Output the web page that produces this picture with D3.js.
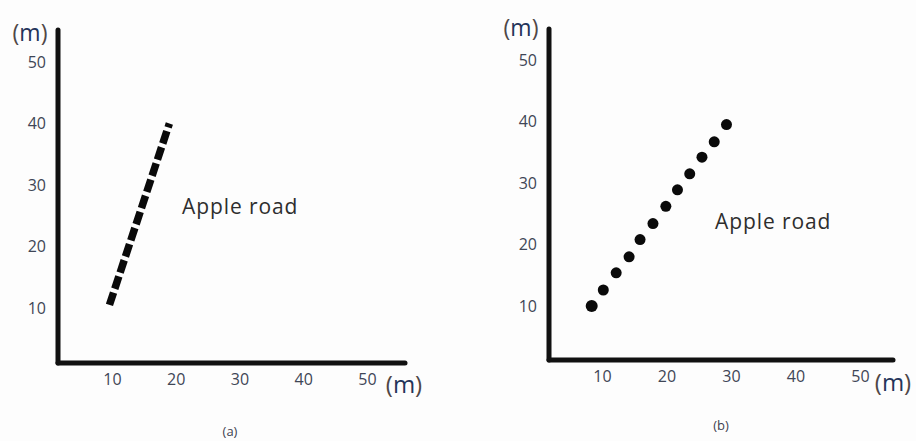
<!DOCTYPE html>
<html>
<head>
<meta charset="utf-8">
<script src="https://cdn.jsdelivr.net/npm/d3@7"></script>
<style>
  html, body { margin: 0; padding: 0; background: #fdfdfd; }
  svg { display: block; }
</style>
</head>
<body>
<div id="main"></div>
<script>
// tick values (both axes, both panels)
const tickValues = [10, 20, 30, 40, 50];

// panel (a): dashed road, two end points
const roadAX = [9.6, 19];
const roadAY = [10.5, 40];

// panel (b): dotted road
const roadBX = [8.4, 10.2, 12.2, 14.2, 15.9, 17.9, 19.9, 21.7, 23.6, 25.5, 27.4, 29.3];
const roadBY = [10.0, 12.6, 15.4, 18.0, 20.8, 23.4, 26.2, 28.9, 31.5, 34.2, 36.7, 39.5];

const roadName = "Apple road";
const panelNames = ["(a)", "(b)"];

const width = 916;
const height = 441;

const svg = d3.select("#main")
  .append("svg")
  .attr("width", width)
  .attr("height", height)
  .style("background", "#fdfdfd");

const tickColor = "#3f4656";
const font = "'Open Sans', 'Noto Sans', sans-serif";

// layout of each hand drawn panel
const panels = [
  {
    name: panelNames[0],
    originX: 58, originY: 363, axisEndX: 405, axisTopY: 30,
    xRange: [112, 367], yRange: [308, 62],
    roadLabel: [182, 214],
    yUnit: [30, 41], xUnit: [404, 393], nameAt: [230, 436]
  },
  {
    name: panelNames[1],
    originX: 549, originY: 360, axisEndX: 893, axisTopY: 29,
    xRange: [602, 860], yRange: [306, 60],
    roadLabel: [715, 229],
    yUnit: [521, 36], xUnit: [893, 391], nameAt: [721, 430]
  }
];

function unitLabel(g, x, y, size) {
  const t = g.append("text")
    .attr("x", x)
    .attr("y", y)
    .attr("text-anchor", "middle")
    .style("font-family", font)
    .style("font-size", size + "px");
  t.append("tspan").attr("fill", "#4f4747").text("(");
  t.append("tspan").attr("fill", "#24345a").text("m");
  t.append("tspan").attr("fill", "#4f4747").text(")");
}

panels.forEach((p, i) => {
  const g = svg.append("g");

  const x = d3.scaleLinear().domain([10, 50]).range(p.xRange);
  const y = d3.scaleLinear().domain([10, 50]).range(p.yRange);

  // tick labels
  const xAxis = d3.axisBottom(x).tickValues(tickValues).tickSize(0).tickPadding(11);
  const yAxis = d3.axisLeft(y).tickValues(tickValues).tickSize(0).tickPadding(12);

  g.append("g")
    .attr("transform", `translate(0, ${p.originY})`)
    .call(xAxis)
    .call(a => a.select(".domain").remove())
    .call(a => a.selectAll(".tick text")
      .attr("x", 0)
      .attr("fill", tickColor)
      .style("font-family", font)
      .style("font-size", "16px"));

  g.append("g")
    .attr("transform", `translate(${p.originX}, 0)`)
    .call(yAxis)
    .call(a => a.select(".domain").remove())
    .call(a => a.selectAll(".tick text")
      .attr("fill", tickColor)
      .style("font-family", font)
      .style("font-size", "16px"));

  // axis lines
  g.append("line")
    .attr("x1", p.originX).attr("y1", p.originY)
    .attr("x2", p.originX).attr("y2", p.axisTopY)
    .attr("stroke", "#111").attr("stroke-width", 5)
    .attr("stroke-linecap", "round");
  g.append("line")
    .attr("x1", p.originX).attr("y1", p.originY)
    .attr("x2", p.axisEndX).attr("y2", p.originY)
    .attr("stroke", "#111").attr("stroke-width", 5)
    .attr("stroke-linecap", "round");

  // road marks
  if (i === 0) {
    const pts = roadAX.map((v, k) => [v, roadAY[k]]);
    g.append("path")
      .datum(pts)
      .attr("d", d3.line().x(d => x(d[0])).y(d => y(d[1])))
      .attr("fill", "none")
      .attr("stroke", "#0a0a0a")
      .attr("stroke-width", 7.5)
      .attr("stroke-dasharray", "13,4");
  } else {
    const pts = roadBX.map((v, k) => [v, roadBY[k]]);
    g.selectAll("circle")
      .data(pts)
      .enter()
      .append("circle")
      .attr("cx", d => x(d[0]))
      .attr("cy", d => y(d[1]))
      .attr("r", (d, k) => k === 0 ? 6 : 5.5)
      .attr("fill", "#0a0a0a");
  }

  // road label
  g.append("text")
    .attr("x", p.roadLabel[0])
    .attr("y", p.roadLabel[1])
    .attr("fill", "#2e2e2e")
    .style("font-family", font)
    .style("font-size", "21px")
    .style("letter-spacing", "0.9px")
    .text(roadName);

  // units
  unitLabel(g, p.yUnit[0], p.yUnit[1], 23);
  unitLabel(g, p.xUnit[0], p.xUnit[1], 24);

  // panel name
  g.append("text")
    .attr("x", p.nameAt[0])
    .attr("y", p.nameAt[1])
    .attr("text-anchor", "middle")
    .attr("fill", "#3d4150")
    .style("font-family", font)
    .style("font-size", "13px")
    .text(p.name);
});
</script>
</body>
</html>
